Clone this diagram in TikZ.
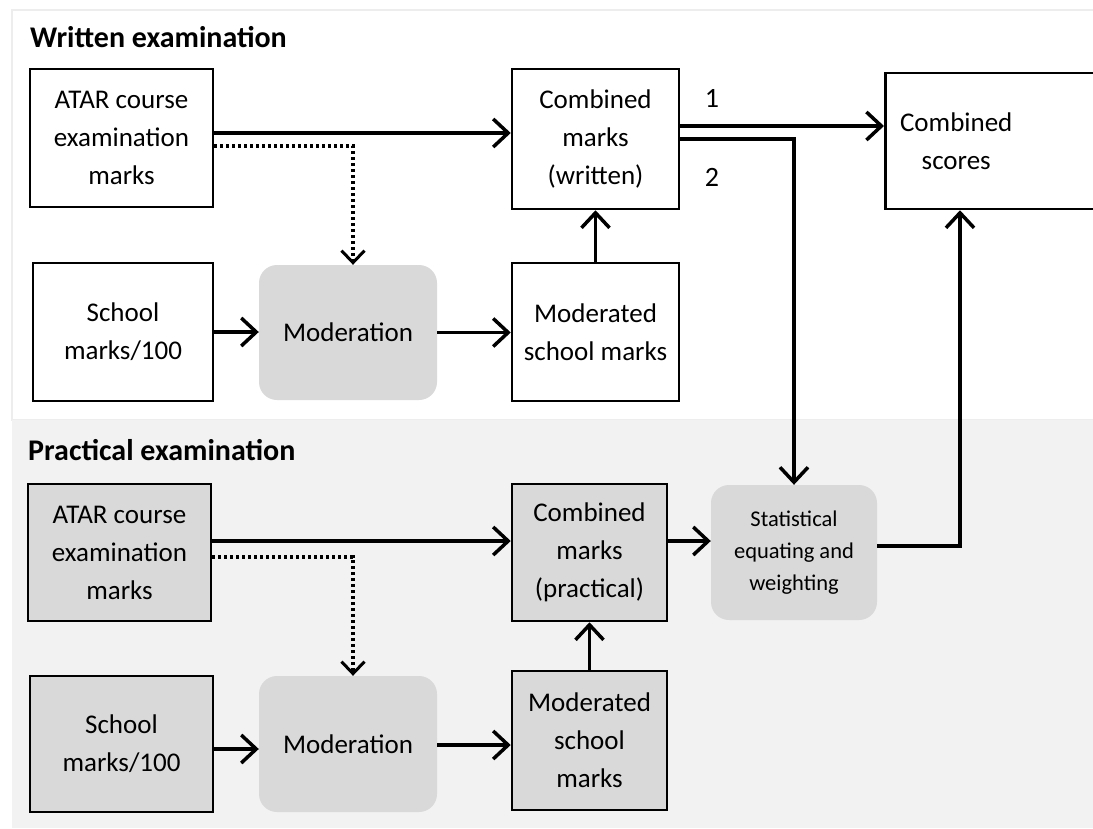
\documentclass[tikz,border=0pt]{standalone}
\usepackage{fontspec}
\setmainfont{Carlito}
\usetikzlibrary{arrows.meta}
\definecolor{bggray}{HTML}{F2F2F2}
\definecolor{boxgray}{HTML}{D9D9D9}
\definecolor{framegray}{HTML}{EDEDED}
\tikzset{
  every node/.style={font=\fontsize{27}{38}\selectfont, align=center, inner sep=0pt},
  wbox/.style={draw=black, line width=2.5pt, fill=white},
  gbox/.style={draw=black, line width=2.5pt, fill=boxgray},
  rbox/.style={fill=boxgray, rounded corners=18pt},
  arr/.style={line width=3.5pt, -{Straight Barb[length=15pt,width=28pt,line width=3.5pt]}},
  dotarr/.style={line width=3.5pt, dash pattern=on 3pt off 3pt, -{Straight Barb[length=12pt,width=23pt,line width=3pt]}},
  title/.style={font=\fontsize{30}{36}\selectfont\bfseries, anchor=base west},
  num/.style={font=\fontsize{28}{34}\selectfont}
}
\begin{document}
\begin{tikzpicture}[x=1pt,y=-1pt]
\useasboundingbox (0,0) rectangle (1093,828);
\clip (0,0) rectangle (1093,828);
\fill[white] (0,0) rectangle (1093,828);
\draw[framegray, line width=2pt] (12,10) rectangle (1110,420);
\fill[bggray] (12,420) rectangle (1110,828);

% titles
\node[title] (tW) at (30,47) {Written examination};
\node[title] (tP) at (28,460) {Practical examination};

% written section
\node[wbox, minimum width=183, minimum height=138] (atarW) at (121.5,138) {ATAR course\\examination\\marks};
\node[wbox, minimum width=180, minimum height=138] (schoolW) at (123,332) {School\\marks/100};
\node[rbox, minimum width=178, minimum height=135] (modW) at (348,332.5) {Moderation};
\node[wbox, minimum width=167, minimum height=140] (combW) at (595.5,139) {Combined\\marks\\(written)};
\node[wbox, minimum width=167, minimum height=138] (modsW) at (595.5,332) {Moderated\\school marks};
\node[wbox, anchor=west, minimum height=136] (scores) at (884,141) {\parbox{142pt}{\centering\fontsize{27}{38}\selectfont Combined\\scores}\hspace{118pt}};

% practical section
\node[gbox, minimum width=183, minimum height=137] (atarP) at (119.5,552.5) {ATAR course\\examination\\marks};
\node[gbox, minimum width=183, minimum height=136] (schoolP) at (121.5,744) {School\\marks/100};
\node[rbox, minimum width=178, minimum height=136] (modP) at (348,744) {Moderation};
\node[gbox, minimum width=155, minimum height=137] (combP) at (589.5,552.5) {Combined\\marks\\(practical)};
\node[gbox, minimum width=155, minimum height=139] (modsP) at (589.5,740.5) {Moderated\\school\\marks};
\node[rbox, minimum width=166, minimum height=135, font=\fontsize{22.5}{32}\selectfont] (stat) at (794,552.5) {Statistical\\equating and\\weighting};

% numbers
\node[num] (n1) at (712,98) {1};
\node[num] (n2) at (712,177) {2};

% written connectors
\draw[arr] (atarW.east |- 0,133) -- (combW.west |- 0,133);
\draw[dotarr] (atarW.east |- 0,146) -| ([xshift=5pt]modW.north);
\draw[arr] (schoolW.east) -- (modW.west |- schoolW.east);
\draw[arr] (modW.east) -- (modsW.west |- modW.east);
\draw[arr] (modsW.north) -- (combW.south);
\draw[arr] (combW.east |- 0,126) -- (scores.west |- 0,126);
\draw[arr] (combW.east |- 0,139) -| (stat.north);
\draw[arr] (stat.east |- 0,546) -| (scores.south -| 960,0);

% practical connectors
\draw[arr] (atarP.east |- 0,541) -- (combP.west |- 0,541);
\draw[dotarr] (atarP.east |- 0,557) -| ([xshift=5pt]modP.north);
\draw[arr] (schoolP.east |- 0,749) -- (modP.west |- 0,749);
\draw[arr] (modP.east |- 0,745) -- (modsP.west |- 0,745);
\draw[arr] (modsP.north) -- (combP.south);
\draw[arr] (combP.east |- 0,541) -- (stat.west |- 0,541);
\end{tikzpicture}
\end{document}
